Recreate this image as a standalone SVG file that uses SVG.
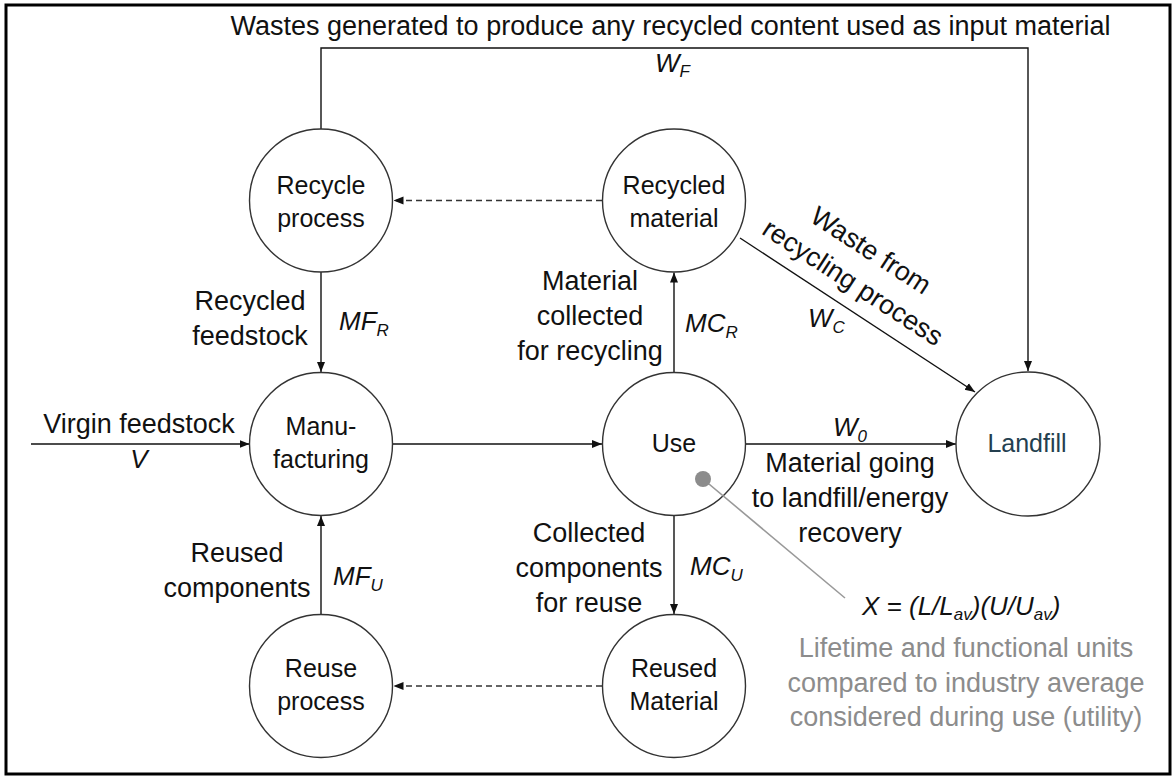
<svg xmlns="http://www.w3.org/2000/svg" width="1172" height="776" viewBox="0 0 1172 776">
<defs>
<marker id="arr" viewBox="0 0 10 10" refX="10" refY="5" markerWidth="10" markerHeight="10" markerUnits="userSpaceOnUse" orient="auto">
<path d="M0,1 L10,5 L0,9 z" fill="#111"/>
</marker>
<style>
.node circle{fill:#fff;stroke:#333;stroke-width:1.4}
text{font-family:"Liberation Sans",Arial,sans-serif;fill:#111}
.nl{font-size:25px;text-anchor:middle}
.el{font-size:27px;text-anchor:middle}
.m{font-size:26px;font-style:italic}
.sub{font-size:17px}
.gray{font-size:27px;text-anchor:middle;fill:#8c8c8c}
.c{fill:none;stroke:#111;stroke-width:1.4}
.d{fill:none;stroke:#333;stroke-width:1.4;stroke-dasharray:6 4}
</style>
</defs>
<rect x="6" y="5" width="1164" height="769" fill="#fff" stroke="#000" stroke-width="3"/>

<g id="connectors">
<path class="c" d="M321,129 V48 H1028 V371" marker-end="url(#arr)"/>
<path class="d" d="M602,200.5 H393.5" marker-end="url(#arr)"/>
<path class="c" d="M321,272 V372" marker-end="url(#arr)"/>
<path class="c" d="M31,444 H249.5" marker-end="url(#arr)"/>
<path class="c" d="M392.5,444 H602" marker-end="url(#arr)"/>
<path class="c" d="M674,372.5 V272.5" marker-end="url(#arr)"/>
<path class="c" d="M740,238 L975,392" marker-end="url(#arr)"/>
<path class="c" d="M746,444 H956" marker-end="url(#arr)"/>
<path class="c" d="M674,515.5 V614" marker-end="url(#arr)"/>
<path class="d" d="M602,686 H393.5" marker-end="url(#arr)"/>
<path class="c" d="M321,614.5 V516" marker-end="url(#arr)"/>
</g>

<g id="recycle-process" class="node"><circle cx="321" cy="200.5" r="71.5"/><text class="nl" x="321" y="194">Recycle</text><text class="nl" x="321" y="227">process</text></g>
<g id="recycled-material" class="node"><circle cx="674" cy="200.5" r="71.5"/><text class="nl" x="674" y="194">Recycled</text><text class="nl" x="674" y="227">material</text></g>
<g id="manufacturing" class="node"><circle cx="321" cy="444" r="71.5"/><text class="nl" x="321" y="435">Manu-</text><text class="nl" x="321" y="468">facturing</text></g>
<g id="use" class="node"><circle cx="674" cy="444" r="71.5"/><text class="nl" x="674" y="452">Use</text></g>
<g id="landfill" class="node"><circle cx="1028" cy="444" r="72"/><text class="nl" x="1027" y="452" style="fill:#243f4f">Landfill</text></g>
<g id="reuse-process" class="node"><circle cx="321" cy="686" r="71.5"/><text class="nl" x="321" y="677">Reuse</text><text class="nl" x="321" y="710">process</text></g>
<g id="reused-material" class="node"><circle cx="674" cy="686" r="71.5"/><text class="nl" x="674" y="677">Reused</text><text class="nl" x="674" y="710">Material</text></g>

<g id="utility-note">
<line x1="703" y1="479" x2="845" y2="598" stroke="#999" stroke-width="1.6"/>
<circle cx="703" cy="479" r="8" fill="#8c8c8c"/>
<text class="m" x="862" y="615">X = (L/L<tspan class="sub" dy="5">av</tspan><tspan dy="-5">)(U/U</tspan><tspan class="sub" dy="5">av</tspan><tspan dy="-5">)</tspan></text>
<text class="gray" x="966" y="657">Lifetime and functional units</text>
<text class="gray" x="966" y="692">compared to industry average</text>
<text class="gray" x="966" y="726">considered during use (utility)</text>
</g>

<g id="labels">
<text class="el" x="670.5" y="35">Wastes generated to produce any recycled content used as input material</text>
<text class="m" x="655" y="72">W<tspan class="sub" dy="5">F</tspan></text>
<text class="el" x="250" y="310">Recycled</text>
<text class="el" x="250" y="345">feedstock</text>
<text class="m" x="339" y="330">MF<tspan class="sub" dy="6">R</tspan></text>
<text class="el" x="590" y="290">Material</text>
<text class="el" x="590" y="325">collected</text>
<text class="el" x="590" y="360">for recycling</text>
<text class="m" x="685" y="332">MC<tspan class="sub" dy="6">R</tspan></text>
<text class="el" transform="translate(866,258) rotate(33)" x="0" y="0">Waste from</text>
<text class="el" transform="translate(848,290) rotate(33)" x="0" y="0">recycling process</text>
<text class="m" x="808" y="327">W<tspan class="sub" dy="6">C</tspan></text>
<text class="m" x="833" y="436">W<tspan class="sub" dy="6">0</tspan></text>
<text class="el" x="850" y="472">Material going</text>
<text class="el" x="850" y="507">to landfill/energy</text>
<text class="el" x="850" y="542">recovery</text>
<text class="el" x="139" y="433">Virgin feedstock</text>
<text class="m" x="139" y="468" text-anchor="middle">V</text>
<text class="el" x="237" y="562">Reused</text>
<text class="el" x="237" y="597">components</text>
<text class="m" x="333" y="585">MF<tspan class="sub" dy="6">U</tspan></text>
<text class="el" x="589" y="542">Collected</text>
<text class="el" x="589" y="577">components</text>
<text class="el" x="589" y="612">for reuse</text>
<text class="m" x="690" y="575">MC<tspan class="sub" dy="6">U</tspan></text>
</g>
</svg>
